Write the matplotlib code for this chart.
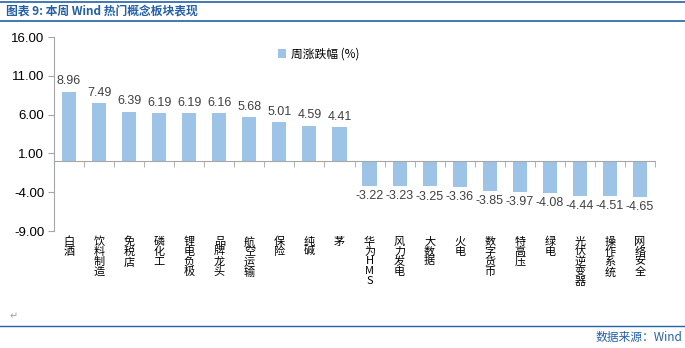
import matplotlib
matplotlib.use("Agg")
import matplotlib.pyplot as plt
from matplotlib.ticker import FixedLocator, FormatStrFormatter
import numpy as np

plt.rcParams['font.family'] = ['Noto Sans CJK SC', 'DejaVu Sans']

categories = ["白酒", "饮料制造", "免税店", "磷化工", "锂电负极", "品牌龙头", "航空运输",
              "保险", "纯碱", "茅", "华为HMS", "风力发电", "大数据", "火电", "数字货币",
              "特高压", "绿电", "光伏逆变器", "操作系统", "网络安全"]
weekly_change = [8.96, 7.49, 6.39, 6.19, 6.19, 6.16, 5.68, 5.01, 4.59, 4.41,
                 -3.22, -3.23, -3.25, -3.36, -3.85, -3.97, -4.08, -4.44, -4.51, -4.65]
y_ticks = [-9.0, -4.0, 1.0, 6.0, 11.0, 16.0]

bar_color = "#9DC3E6"
text_color = "#404040"
axis_color = "#A6A6A6"
blue = "#2460A8"
num_font = ["Liberation Sans", "DejaVu Sans"]

fig = plt.figure(figsize=(6.85, 3.48), dpi=100)
ax = fig.add_axes([54 / 685, 1 - 231 / 348, (655 - 54) / 685, (231 - 37) / 348])

x = np.arange(len(categories))
ax.bar(x, weekly_change, width=0.47, color=bar_color, label="周涨跌幅 (%)", zorder=2)

for xi, v in zip(x, weekly_change):
    up = v >= 0
    ax.annotate(f"{v:.2f}", (xi, v), xytext=(0, 3 if up else -3), textcoords="offset points",
                ha="center", va="bottom" if up else "top", fontsize=9, color=text_color,
                family=num_font)

ax.set_xlim(-0.5, len(categories) - 0.5)
ax.set_ylim(y_ticks[0], y_ticks[-1])
ax.yaxis.set_major_locator(FixedLocator(y_ticks))
ax.yaxis.set_major_formatter(FormatStrFormatter("%.2f"))
ax.tick_params(axis="y", direction="out", length=4, color=axis_color,
               labelsize=9.5, labelcolor="black", pad=3)
for lab in ax.get_yticklabels():
    lab.set_family(num_font)

for s in ["top", "right"]:
    ax.spines[s].set_visible(False)
ax.spines["left"].set_color(axis_color)
ax.spines["bottom"].set_color(axis_color)
ax.spines["bottom"].set_position(("data", 0))

# category boundaries as tick marks on the zero line
ax.xaxis.set_major_locator(FixedLocator([]))
ax.xaxis.set_minor_locator(FixedLocator(np.arange(len(categories) + 1) - 0.5))
ax.tick_params(axis="x", which="minor", direction="out", length=4, color=axis_color)

# category labels along the bottom edge, characters stacked vertically
sec = ax.secondary_xaxis("bottom")
sec.spines["bottom"].set_visible(False)
sec.xaxis.set_major_locator(FixedLocator(x))
sec.set_xticklabels(["\n".join(c) for c in categories], fontsize=8, linespacing=0.98,
                    va="top")
sec.tick_params(axis="x", length=0, pad=4)

ax.legend(loc="upper center", bbox_to_anchor=(0.44, 1.0), frameon=False,
          fontsize=8.5, handlelength=0.7, handleheight=0.7, handletextpad=0.4)

# header and footer
fig.add_artist(plt.Line2D([0, 1], [1 - 1.5 / 348, 1 - 1.5 / 348], color=blue, lw=1.2))
fig.add_artist(plt.Line2D([0, 1], [1 - 21 / 348, 1 - 21 / 348], color=blue, lw=1.2))
fig.text(6 / 685, 1 - 11 / 348, "图表 9: 本周 Wind 热门概念板块表现", color=blue,
         fontsize=8.5, fontweight="bold", style="italic", va="center", ha="left")
fig.add_artist(plt.Line2D([0, 1], [1 - 326 / 348, 1 - 326 / 348], color=blue, lw=1.0))
fig.text(682 / 685, 1 - 337 / 348, "数据来源：Wind", color=blue, fontsize=8.5,
         va="center", ha="right")
fig.text(10 / 685, 1 - 316 / 348, "↵", color="#A0A0A0", fontsize=7, va="center")

fig.savefig("out.png", dpi=100)
